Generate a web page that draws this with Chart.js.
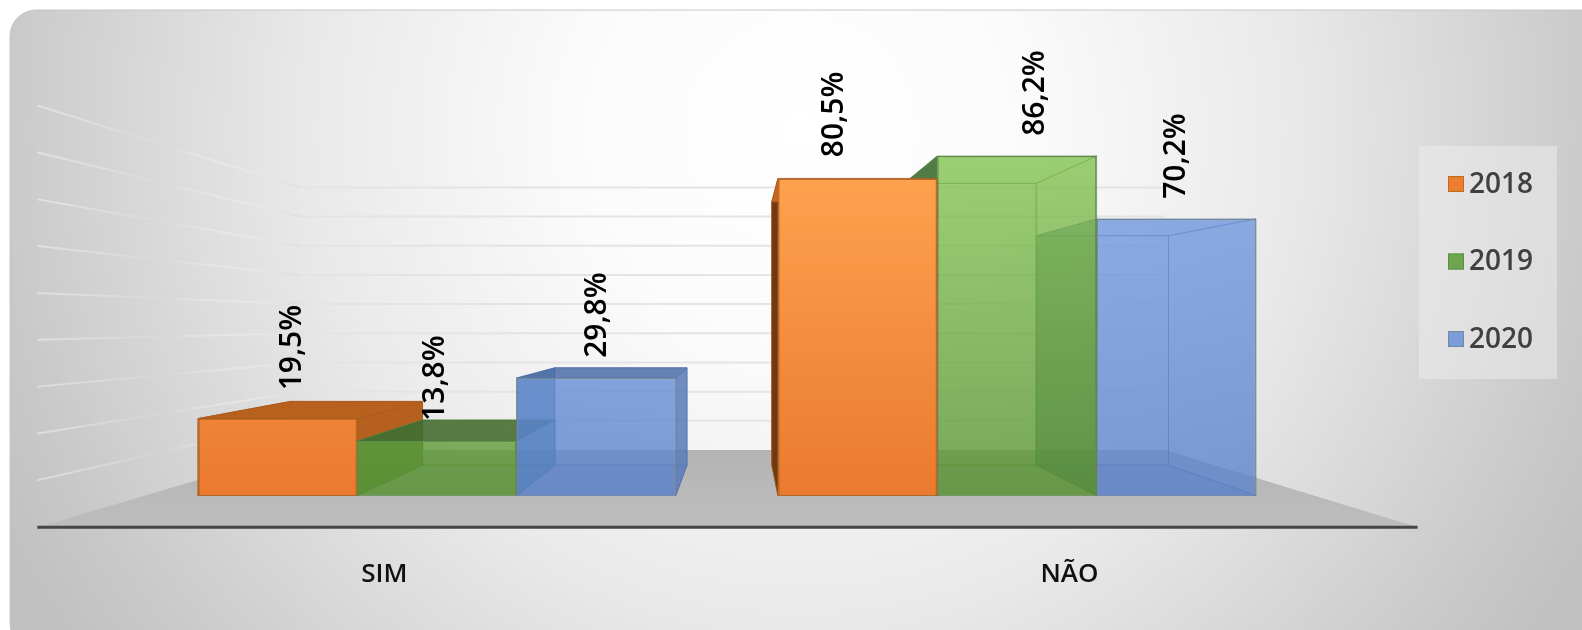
<!DOCTYPE html>
<html>
<head>
<meta charset="utf-8">
<script src="https://cdn.jsdelivr.net/npm/chart.js@4"></script>
<style>
    html, body { margin: 0; padding: 0; background: #fff; }
    canvas { display: block; filter: blur(0.5px); }
</style>
</head>
<body>
<canvas id="myChart" width="1582" height="630"></canvas>
<script>
const categories = ['SIM', 'NÃO'];
const years = ['2018', '2019', '2020'];
const values2018 = [19.5, 80.5];
const values2019 = [13.8, 86.2];
const values2020 = [29.8, 70.2];
const valueLabels = [['19,5%', '80,5%'], ['13,8%', '86,2%'], ['29,8%', '70,2%']];
const gridValues = [0, 10, 20, 30, 40, 50, 60, 70, 80, 90];

// label nudges, the original labels were placed by hand: [dx, gap above bar]
const labelNudge = [[[15, 28], [-23, 21]], [[-1, 20], [18, 20]], [[1, 20], [0, 20]]];

// the 3D look: back of a bar is the front scaled towards this point
const vanish = { x: 741.6, y: 317.5, depth: 0.83 };
const floor = { frontY: 527.2, backY: 450, frontL: 37.3, frontR: 1417.6, backL: 299.7, backR: 1165 };
const wallFront = 1.19;
const wallBack = 0.741;
const labelVanishX = 727;
const labelSpread = 1.181;

// *High = bars that rise above the vanishing point, those show other sides
const faces = [
    { back: '#c46520', bottom: '#a85518', left: '#6e3a12', leftHigh: '#6e3a12', right: '#b5601f', rightHigh: '#b5601f', top: '#b8611f', under: '#c46520',
      edge: 'rgba(170,90,30,0.8)' },
    { back: 'rgba(90,150,60,0.12)', bottom: 'rgba(50,100,30,0.15)', left: 'rgba(100,140,80,0.9)', leftHigh: 'rgba(55,95,50,0.92)', right: 'rgba(90,150,60,0.12)', rightHigh: 'rgba(90,150,60,0.12)', top: 'rgba(65,105,45,0.85)', under: 'rgba(130,190,90,0.2)',
      edge: 'rgba(80,130,60,0.6)' },
    { back: 'rgba(90,130,200,0.12)', bottom: 'rgba(60,90,150,0.25)', left: 'rgba(50,110,140,0.6)', leftHigh: 'rgba(70,100,110,0.6)', right: 'rgba(90,125,185,0.85)', rightHigh: 'rgba(90,130,200,0.12)', top: 'rgba(70,105,165,0.8)', under: 'rgba(120,160,230,0.2)',
      edge: 'rgba(80,110,170,0.6)' }
];

const frontTop = ['#ffa450', 'rgba(132,195,80,0.75)', 'rgba(115,155,225,0.75)'];
const frontBottom = ['#ea7a2e', 'rgba(85,145,45,0.75)', 'rgba(90,130,205,0.75)'];
const borders = ['#bb6a28', '#5f8f45', '#74899f'];
const swatches = ['#ed7d31', '#70a54f', '#7b9cd8'];

function toBack(x, y) {
    return [vanish.x + (x - vanish.x) * vanish.depth, vanish.y + (y - vanish.y) * vanish.depth];
}

function poly(ctx, pts, fill, edge) {
    ctx.beginPath();
    pts.forEach((p, i) => i ? ctx.lineTo(p[0], p[1]) : ctx.moveTo(p[0], p[1]));
    ctx.closePath();
    ctx.fillStyle = fill;
    ctx.fill();
    ctx.strokeStyle = edge;
    ctx.lineWidth = 1;
    ctx.stroke();
}

function drawPanel(ctx) {
    const g = ctx.createRadialGradient(800, 130, 0, 800, 130, 900);
    g.addColorStop(0, '#ffffff');
    g.addColorStop(0.25, '#fbfbfb');
    g.addColorStop(0.55, '#e9e9e9');
    g.addColorStop(0.7, '#dbdbdb');
    g.addColorStop(0.9, '#c8c8c8');
    g.addColorStop(1, '#c0c0c0');
    ctx.beginPath();
    ctx.roundRect(10, 10, 1600, 640, 26);
    ctx.fillStyle = g;
    ctx.fill();
    ctx.strokeStyle = '#c6c6c6';
    ctx.lineWidth = 1;
    ctx.stroke();
}

function drawWalls(chart) {
    const ctx = chart.ctx;
    const y0 = chart.scales.y.getPixelForValue(0);

    const f = ctx.createLinearGradient(0, floor.backY, 0, floor.frontY);
    f.addColorStop(0, '#b4b4b4');
    f.addColorStop(1, '#bdbdbd');
    ctx.beginPath();
    ctx.moveTo(floor.frontL, floor.frontY);
    ctx.lineTo(floor.backL, floor.backY);
    ctx.lineTo(floor.backR, floor.backY);
    ctx.lineTo(floor.frontR, floor.frontY);
    ctx.closePath();
    ctx.fillStyle = f;
    ctx.fill();

    gridValues.slice(1).forEach(v => {
        const h = y0 - chart.scales.y.getPixelForValue(v);
        const yFront = floor.frontY - h * wallFront;
        const yBack = floor.backY - h * wallBack;
        const fade = ctx.createLinearGradient(floor.frontL, 0, floor.backL, 0);
        fade.addColorStop(0, 'rgba(255,255,255,0.4)');
        fade.addColorStop(0.5, 'rgba(255,255,255,0.03)');
        fade.addColorStop(1, '#dedede');
        ctx.lineWidth = 2;
        ctx.strokeStyle = fade;
        ctx.beginPath();
        ctx.moveTo(floor.frontL, yFront);
        ctx.lineTo(floor.backL, yBack);
        ctx.stroke();
        ctx.strokeStyle = '#e4e4e4';
        ctx.beginPath();
        ctx.moveTo(floor.backL, yBack);
        ctx.lineTo(floor.backR, yBack);
        ctx.stroke();
    });

    ctx.strokeStyle = '#454545';
    ctx.lineWidth = 3;
    ctx.beginPath();
    ctx.moveTo(floor.frontL, floor.frontY);
    ctx.lineTo(floor.frontR, floor.frontY);
    ctx.stroke();
}

function drawBox(ctx, bar, face) {
    const l = bar.x - bar.width / 2;
    const r = bar.x + bar.width / 2;
    const t = bar.y;
    const b = bar.base;
    const bl = toBack(l, b);
    const br = toBack(r, b);
    const tl = toBack(l, t);
    const tr = toBack(r, t);
    const high = t < vanish.y;
    poly(ctx, [tl, tr, br, bl], face.back, face.edge);
    poly(ctx, [[l, b], [r, b], br, bl], face.bottom, face.edge);
    poly(ctx, [[l, t], tl, bl, [l, b]], high ? face.leftHigh : face.left, face.edge);
    poly(ctx, [[r, t], tr, br, [r, b]], high ? face.rightHigh : face.right, face.edge);
    poly(ctx, [[l, t], [r, t], tr, tl], high ? face.under : face.top, face.edge);
}

function drawLegend(ctx) {
    ctx.fillStyle = 'rgba(238,238,238,0.5)';
    ctx.fillRect(1419, 146, 138, 233);
    ctx.font = '600 28px "Open Sans"';
    ctx.textAlign = 'left';
    ctx.textBaseline = 'middle';
    years.forEach((year, i) => {
        const y = 184 + i * 77.5;
        ctx.fillStyle = swatches[i];
        ctx.fillRect(1448, y - 8, 16, 16);
        ctx.strokeStyle = borders[i];
        ctx.lineWidth = 1;
        ctx.strokeRect(1448.5, y - 7.5, 15, 15);
        ctx.fillStyle = '#404040';
        ctx.fillText(year, 1469, y + 1);
    });
}

const scene3d = {
    id: 'scene3d',
    beforeDraw(chart) {
        drawPanel(chart.ctx);
        drawWalls(chart);
        drawLegend(chart.ctx);
    },
    beforeDatasetsDraw(chart) {
        const ctx = chart.ctx;
        categories.forEach((c, j) => {
            // draw from the far side of the vanishing point towards the near side
            const first = chart.getDatasetMeta(0).data[j];
            const order = first.x < vanish.x ? [0, 1, 2] : [2, 1, 0];
            order.forEach(i => drawBox(ctx, chart.getDatasetMeta(i).data[j], faces[i]));
        });
    },
    afterDatasetsDraw(chart) {
        const ctx = chart.ctx;
        ctx.fillStyle = '#000';
        ctx.font = '600 30px "Open Sans"';
        ctx.textBaseline = 'middle';
        ctx.textAlign = 'left';
        years.forEach((year, i) => {
            categories.forEach((c, j) => {
                const bar = chart.getDatasetMeta(i).data[j];
                const nudge = labelNudge[i][j];
                ctx.save();
                ctx.translate(bar.x + nudge[0] * 1.009, bar.y - nudge[1] * 1.009);
                ctx.rotate(-Math.PI / 2);
                ctx.fillText(valueLabels[i][j], 0, 0);
                ctx.restore();
            });
        });
        // category labels sit on the front edge of the floor
        ctx.fillStyle = '#111';
        ctx.font = '600 26px "Open Sans"';
        ctx.textAlign = 'center';
        categories.forEach((c, j) => {
            const x = chart.scales.x.getPixelForValue(j);
            ctx.fillText(c, labelVanishX + (x - labelVanishX) * labelSpread, 575);
        });
    }
};

function frontFill(i) {
    return function (context) {
        const chart = context.chart;
        const area = chart.chartArea;
        if (!area || !Number.isFinite(area.top) || !chart.scales.y) return frontBottom[i];
        const yTop = chart.scales.y.getPixelForValue(86.2);
        const yBase = chart.scales.y.getPixelForValue(0);
        if (!Number.isFinite(yTop) || !Number.isFinite(yBase)) return frontBottom[i];
        const g = chart.ctx.createLinearGradient(0, yTop, 0, yBase);
        g.addColorStop(0, frontTop[i]);
        g.addColorStop(1, frontBottom[i]);
        return g;
    };
}

const series = [values2018, values2019, values2020];

new Chart(document.getElementById('myChart'), {
    type: 'bar',
    plugins: [scene3d],
    data: {
        labels: categories,
        datasets: years.map((year, i) => ({
            label: year,
            data: series[i],
            backgroundColor: frontFill(i),
            borderColor: borders[i],
            borderWidth: 1.5,
            categoryPercentage: 0.824,
            barPercentage: 1
        }))
    },
    options: {
        responsive: false,
        animation: false,
        layout: { padding: { left: 146.8, right: 275, top: 141, bottom: 134.6 } },
        scales: {
            x: { display: false },
            y: { display: false, min: 0, max: 90 }
        },
        plugins: {
            legend: { display: false },
            tooltip: { enabled: false }
        }
    }
});
</script>
</body>
</html>
